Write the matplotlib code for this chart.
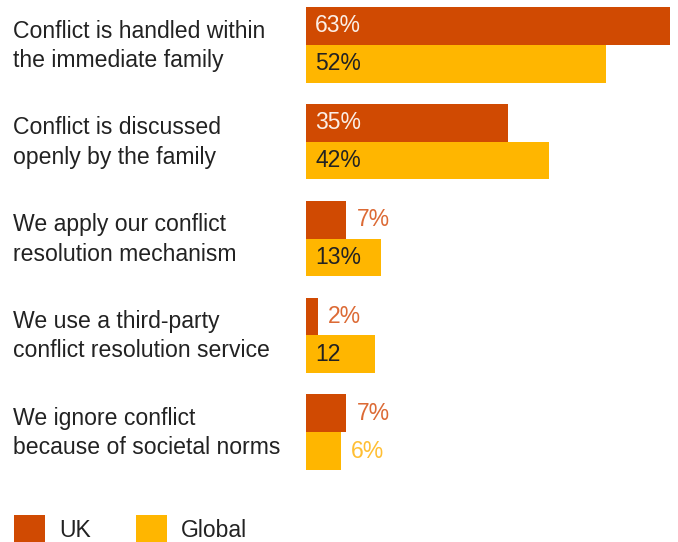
import matplotlib.pyplot as plt
from matplotlib.patches import Rectangle
from matplotlib.transforms import blended_transform_factory

plt.rcParams["font.family"] = ["Liberation Sans", "DejaVu Sans"]

categories = [
    "Conflict is handled within\nthe immediate family",
    "Conflict is discussed\nopenly by the family",
    "We apply our conflict\nresolution mechanism",
    "We use a third-party\nconflict resolution service",
    "We ignore conflict\nbecause of societal norms",
]
uk = [63, 35, 7, 2, 7]
global_ = [52, 42, 13, 12, 6]
uk_labels = ["63%", "35%", "7%", "2%", "7%"]
global_labels = ["52%", "42%", "13%", "12", "6%"]

UK_COLOR = "#d04a02"
GLOBAL_COLOR = "#ffb600"
TEXT = "#222222"

W, H = 678, 542
fig = plt.figure(figsize=(W / 100, H / 100), dpi=100)
ax = fig.add_axes([306 / W, (H - 470) / H, 364 / W, 463 / H])

bh = 0.39
ys = list(range(len(categories)))
ax.barh([y - bh / 2 for y in ys], uk, height=bh, color=UK_COLOR, linewidth=0)
ax.barh([y + bh / 2 for y in ys], global_, height=bh, color=GLOBAL_COLOR, linewidth=0)
ax.set_xlim(0, 63)
ax.set_ylim(len(categories) - 1 + bh, -bh)
ax.axis("off")

px = 63 / 364  # data units per pixel along x
fs = 16.5
for y, v, lab in zip(ys, uk, uk_labels):
    if v >= 10:
        ax.text(9 * px, y - bh / 2, lab, color="#fbeee6", fontsize=fs, va="center", ha="left")
    else:
        ax.text(v + 10 * px, y - bh / 2, lab, color="#dc6a35", fontsize=fs, va="center", ha="left")
for y, v, lab in zip(ys, global_, global_labels):
    if v >= 10:
        ax.text(9 * px, y + bh / 2, lab, color=TEXT, fontsize=fs, va="center", ha="left")
    else:
        ax.text(v + 10 * px, y + bh / 2, lab, color="#ffbf33", fontsize=fs, va="center", ha="left")

trans = blended_transform_factory(fig.transFigure, ax.transData)
for y, cat in zip(ys, categories):
    fig.text(13 / W, y + 0.01, cat, transform=trans, fontsize=16.6, color=TEXT,
             ha="left", va="center", linespacing=1.35)

# legend along the bottom edge
for x0, col, name, tx in [(14, UK_COLOR, "UK", 59), (136, GLOBAL_COLOR, "Global", 181)]:
    fig.patches.append(Rectangle((x0 / W, -4 / H), 31 / W, 31 / H, transform=fig.transFigure,
                                 color=col, linewidth=0))
    fig.text(tx / W, 5 / H, name, fontsize=fs, color=TEXT, ha="left", va="baseline")

fig.savefig("out.png", dpi=100)
